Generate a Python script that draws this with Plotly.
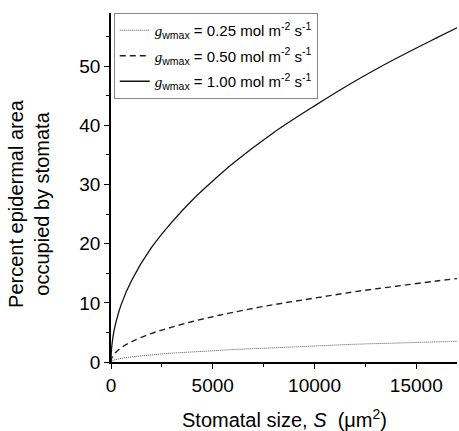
import plotly.graph_objects as go

# Stomatal size S (um^2)
size_s = [0, 20, 50, 100, 200, 500, 1000, 2000, 3000, 4000, 5000, 6000, 8000,
          10000, 12000, 14000, 16000, 17000]
# Percent epidermal area occupied by stomata
pct_025 = [0.0, 0.12, 0.19, 0.27, 0.38, 0.60, 0.86, 1.2, 1.5, 1.7, 1.9, 2.1, 2.4,
           2.7, 3.0, 3.2, 3.4, 3.5]
pct_050 = [0.0, 0.48, 0.75, 1.05, 1.5, 2.4, 3.4, 4.85, 5.9, 6.85, 7.65, 8.4, 9.7,
           10.8, 11.9, 12.8, 13.7, 14.1]
pct_100 = [0.0, 1.9, 3.0, 4.3, 6.1, 9.7, 13.7, 19.4, 23.7, 27.4, 30.6, 33.6, 38.8,
           43.3, 47.5, 51.3, 54.8, 56.5]

x_ticks = [0, 5000, 10000, 15000]
x_tick_labels = ['0', '5000', '10000', '15000']
y_ticks = [0, 10, 20, 30, 40, 50]
y_tick_labels = ['0', '10', '20', '30', '40', '50']

g = '<span style="font-family:Liberation Serif"><i>g</i></span><sub>wmax</sub>'
names = [g + ' = 0.25 mol m<sup>-2</sup> s<sup>-1</sup>',
         g + ' = 0.50 mol m<sup>-2</sup> s<sup>-1</sup>',
         g + ' = 1.00 mol m<sup>-2</sup> s<sup>-1</sup>']

fig = go.Figure()
fig.add_trace(go.Scatter(x=size_s, y=pct_025, mode='lines', name=names[0], legendgroup='a',
                         line=dict(color='#555555', width=1, dash='1px,1px', shape='spline')))
fig.add_trace(go.Scatter(x=size_s, y=pct_050, mode='lines', name=names[1], legendgroup='b',
                         line=dict(color='#222222', width=1.4, dash='6px,4px', shape='spline')))
fig.add_trace(go.Scatter(x=size_s, y=pct_100, mode='lines', name=names[2], legendgroup='c',
                         line=dict(color='#111111', width=1.3, shape='spline')))

axis_font = dict(family='Liberation Sans, Arial, sans-serif', size=19, color='black')
fig.update_layout(
    width=459, height=431,
    margin=dict(l=111, r=2, t=13, b=69),
    paper_bgcolor='white', plot_bgcolor='white',
    font=dict(family='Liberation Sans, Arial, sans-serif', color='black'),
    showlegend=True,
    legend=dict(x=0.008, y=1.0, xanchor='left', yanchor='top',
                bordercolor='#888888', borderwidth=1, bgcolor='white',
                font=dict(size=15, color='black'), tracegroupgap=3,
                itemwidth=30),
    xaxis=dict(range=[0, 17000], tickvals=x_ticks, ticktext=x_tick_labels,
               showline=True, linecolor='black', linewidth=1.5,
               ticks='outside', ticklen=5, tickwidth=1.2, tickcolor='black',
               minor=dict(tickvals=[2500, 7500, 12500], ticks='outside', ticklen=3,
                          tickwidth=1, tickcolor='black', showgrid=False),
               showgrid=False, zeroline=False, tickfont=axis_font),
    yaxis=dict(range=[0, 59], tickvals=y_ticks, ticktext=y_tick_labels,
               showline=True, linecolor='black', linewidth=1.5,
               ticks='outside', ticklen=5, tickwidth=1.2, tickcolor='black',
               minor=dict(tickvals=[5, 15, 25, 35, 45, 55], ticks='outside', ticklen=3,
                          tickwidth=1, tickcolor='black', showgrid=False),
               showgrid=False, zeroline=False, tickfont=axis_font),
)

fig.add_annotation(text='Stomatal size, <i>S</i>  (\u03bcm<sup>2</sup>)',
                   xref='paper', yref='paper', x=0.5, y=-0.121,
                   xanchor='center', yanchor='top', showarrow=False,
                   font=dict(size=20, color='black'))
fig.add_annotation(text='Percent epidermal area<br>occupied by stomata',
                   xref='paper', yref='paper', x=-0.235, y=0.455,
                   xanchor='center', yanchor='middle', showarrow=False, textangle=-90,
                   font=dict(size=20, color='black'))

fig.write_html('out.html')
